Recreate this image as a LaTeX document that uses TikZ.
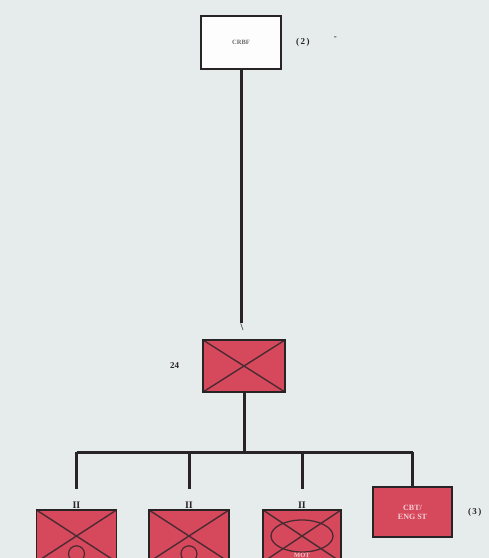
\documentclass[tikz,border=0pt]{standalone}
\usepackage{fontspec}
\setmainfont{Liberation Serif}
\usepackage{tikz}
\usetikzlibrary{calc,positioning}
\definecolor{paper}{RGB}{230,236,236}
\definecolor{unitred}{RGB}{214,72,92}
\definecolor{inkgrey}{RGB}{40,36,38}
\tikzset{
	hqbox/.style={
		draw=inkgrey, line width=1.8pt, rectangle, fill=white!92!paper,
		minimum width=80pt, minimum height=53pt, inner sep=0pt,
		font=\fontsize{6.5}{7}\selectfont\bfseries, text=inkgrey!70
	},
	crossbox/.style={
		draw=inkgrey, line width=1.6pt, rectangle, fill=unitred,
		minimum width=#1, minimum height=52pt, inner sep=0pt,
		path picture = {
			\draw[inkgrey!80!unitred, line width=1.4pt]
			(path picture bounding box.north west) --
			(path picture bounding box.south east)
			(path picture bounding box.south west) --
			(path picture bounding box.north east);
		}
	},
	crossbox/.default=80pt,
	plainbox/.style={
		draw=inkgrey, line width=1.6pt, rectangle, fill=unitred,
		minimum width=79pt, minimum height=50pt, inner sep=0pt, align=center,
		font=\fontsize{8}{9}\selectfont\bfseries, text=white!75!unitred
	},
	tag/.style={font=\fontsize{9}{10}\selectfont\bfseries, text=inkgrey, inner sep=1pt},
	echelon/.style={font=\fontsize{10}{10}\selectfont\bfseries, text=inkgrey, inner sep=0pt},
	link/.style={draw=inkgrey, line width=3pt}
}
\begin{document}
\begin{tikzpicture}[x=1pt,y=-1pt]
				\fill[paper] (0,0) rectangle (489,558);
				\clip (0,0) rectangle (489,558);
				\node[hqbox] (crbf) at (241,42.5) {CRBF};
				\node[tag] (crbfnum) [right=13pt of crbf] {(\,2\,)};
				\node[tag] (dash) [right=22pt of crbfnum, yshift=4pt] {-};
				\node[crossbox=82pt] (bde) at (244,366) {};
				\node[tag] (bdenum) [left=22pt of bde] {24};
				\node[echelon] (bdemark) at (242,327) {\textbackslash};
				\node[crossbox] (bnA) at (76.5,536) {};
				\node[crossbox] (bnB) at (189,536) {};
				\node[crossbox=78pt] (bnC) at (302,536) {};
				\node[plainbox] (engst) at (412.5,512) {CBT/\\ENG ST};
				\node[tag] (engnum) [right=14pt of engst] {(\,3\,)};
				% battalion marks
				\foreach \u in {bnA,bnB,bnC}
					\node[echelon, above=1pt of \u.north, name=mark\u] {II};
				% extra symbols inside the unit boxes
				\foreach \u in {bnA,bnB}
					\draw[inkgrey!80!unitred, line width=1.2pt] ($(\u.south)+(0,-9)$) circle (8);
				\draw[inkgrey!80!unitred, line width=1.3pt] (bnC.center) ellipse (31 and 16);
				\node[font=\fontsize{6.5}{7}\selectfont\bfseries, text=white!70!unitred, inner sep=0pt] (bnCtxt) at ($(bnC.south)+(0,-7)$) {MOT};
				% connectors
				\coordinate (bus) at (244,452);
				\draw[link] (crbf.south) -- (bdemark.north -| crbf.south);
				\draw[link] (bde.south) -- (bus);
				\draw[link] (bnA.north |- bus) -- (engst.north |- bus);
				\foreach \u in {bnA,bnB,bnC}
					\draw[link] (\u.north |- bus) -- ($(mark\u.north)+(0,-12)$);
				\draw[link] (engst.north |- bus) -- (engst.north);
			\end{tikzpicture}
\end{document}
